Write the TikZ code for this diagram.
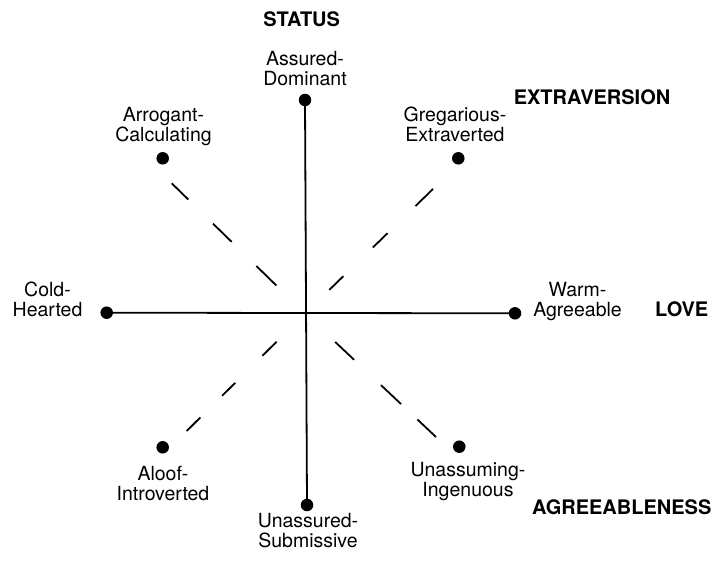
\documentclass[tikz,border=0pt]{standalone}
\usepackage{fontspec}
\setmainfont{TeX Gyre Heros}
\usetikzlibrary{calc}
\begin{document}
\begin{tikzpicture}[x=1pt,y=-1pt,
  dot/.style={circle,fill=black,inner sep=0pt,minimum size=12.5pt},
  axisline/.style={line width=1.8pt},
  dashseg/.style={line width=1.8pt},
  lbl/.style={align=center,inner sep=0pt,font=\fontsize{19.5}{20}\selectfont},
  dimlbl/.style={inner sep=0pt,anchor=base,font=\bfseries\fontsize{20}{22}\selectfont}]
\useasboundingbox (0,0) rectangle (713,562);
\fill[white] (0,0) rectangle (713,562);
% dots
\node[dot] (T)  at (305,100) {};
\node[dot] (B)  at (307,505) {};
\node[dot] (L)  at (106.7,312.7) {};
\node[dot] (R)  at (515,313.3) {};
\node[dot] (TL) at (162.7,158.3) {};
\node[dot] (TR) at (458.3,158.3) {};
\node[dot] (BL) at (162.7,447.3) {};
\node[dot] (BR) at (459.3,446.7) {};
% axes
\draw[axisline] (L.center) -- (R.center);
\draw[axisline] (T.center) -- (B.center);
% dashed diagonals
\coordinate (c) at (305,313.5);
\coordinate (dTL) at (171.7,183.3);
\coordinate (dTR) at (433,189);
\coordinate (dBL) at (186.7,431);
\coordinate (dBR) at (436,437);
\foreach \a/\b in {0.215/0.365,0.55/0.69,0.875/1}
  \draw[dashseg] ($(c)!\a!(dTL)$) -- ($(c)!\b!(dTL)$);
\foreach \a/\b in {0.19/0.30,0.53/0.645,0.863/1}
  \draw[dashseg] ($(c)!\a!(dTR)$) -- ($(c)!\b!(dTR)$);
\foreach \a/\b in {0.24/0.36,0.59/0.70,0.885/1}
  \draw[dashseg] ($(c)!\a!(dBL)$) -- ($(c)!\b!(dBL)$);
\foreach \a/\b in {0.23/0.375,0.58/0.733,0.858/1}
  \draw[dashseg] ($(c)!\a!(dBR)$) -- ($(c)!\b!(dBR)$);
% labels
\node[lbl] (lT)  at (305,68.2) {Assured-\\Dominant};
\node[lbl] (lB)  at (308,531) {Unassured-\\Submissive};
\node[lbl] (lL)  at (47.5,299.5) {Cold-\\Hearted};
\node[lbl] (lR)  at (577.5,302) {Warm-\\Agreeable};
\node[lbl] (lTL) at (163.5,127) {Arrogant-\\Calculating};
\node[lbl] (lTR) at (455,124) {Gregarious-\\Extraverted};
\node[lbl] (lBL) at (163,484) {Aloof-\\Introverted};
\node[lbl] (lBR) at (468,481.8) {Unassuming-\\Ingenuous};
% dimension labels
\node[dimlbl] (dS) at (301.7,26.7) {STATUS};
\node[dimlbl] (dE) at (592,104.3) {EXTRAVERSION};
\node[dimlbl] (dLv) at (681.7,316.7) {LOVE};
\node[dimlbl] (dA) at (621.7,514) {AGREEABLENESS};
\end{tikzpicture}
\end{document}
